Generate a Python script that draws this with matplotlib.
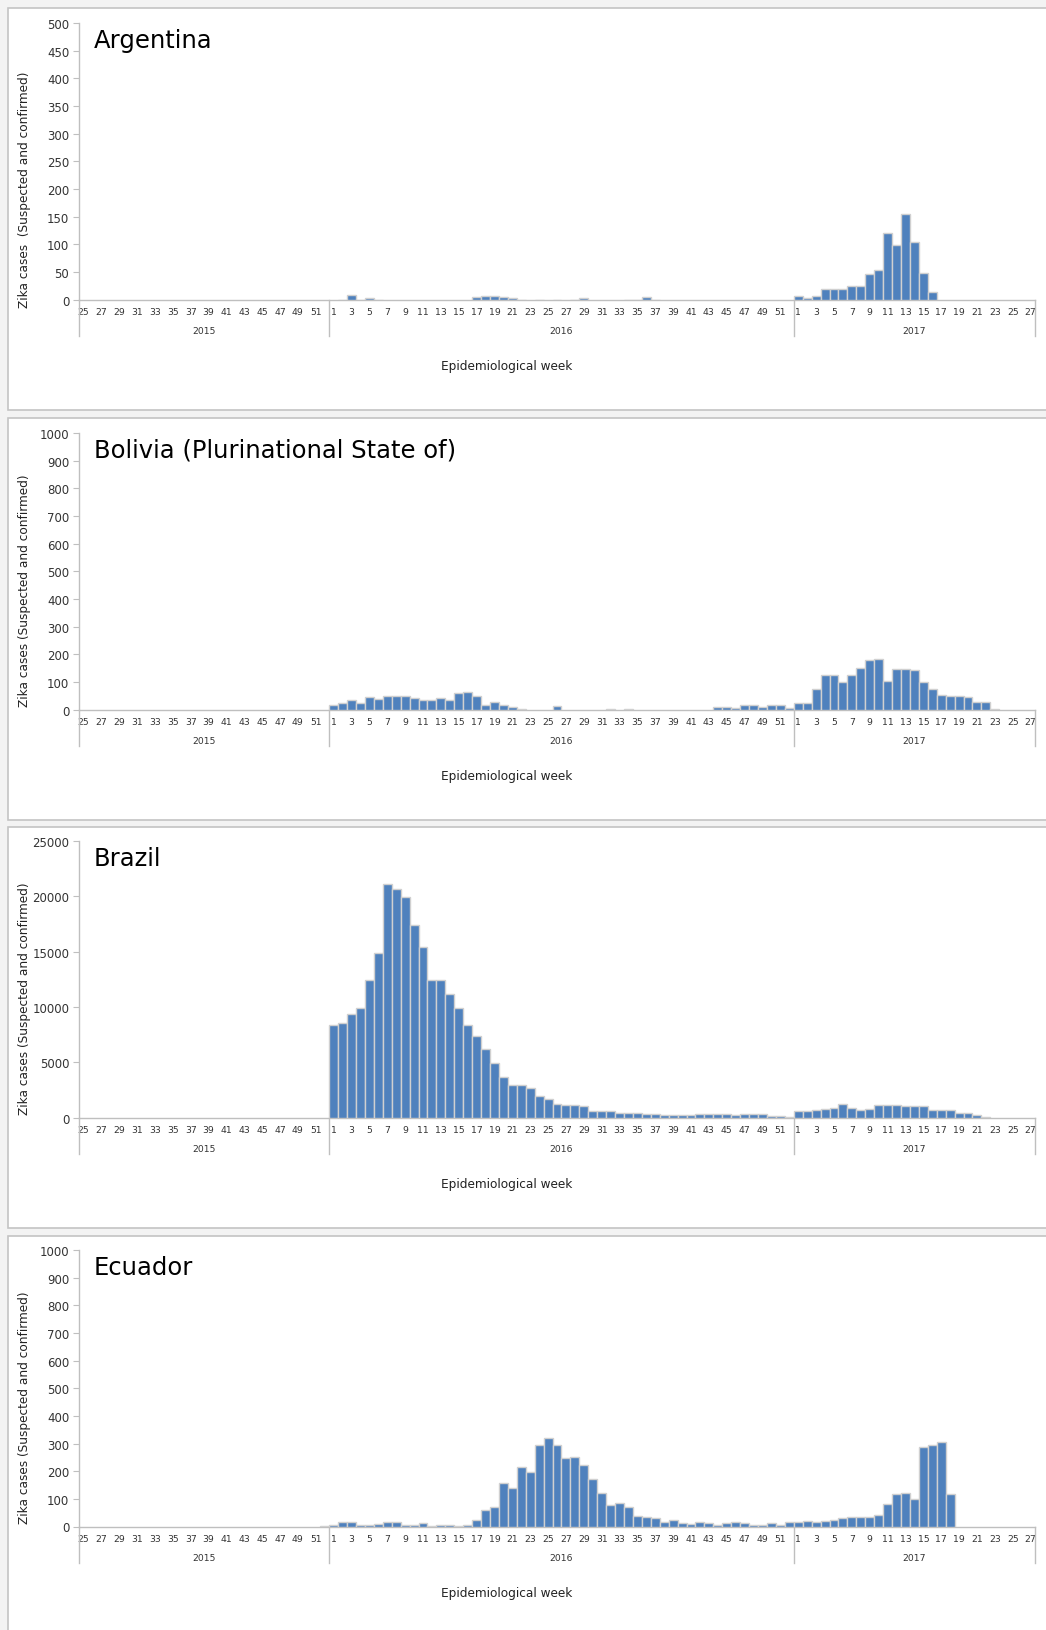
import numpy as np
import matplotlib.pyplot as plt
from matplotlib.patches import Rectangle

"""
    Zika cases (suspected and confirmed) per epidemiological week,
    one panel per country, 2015 week 25 to 2017 week 27
"""

weeks_2015 = list(range(25, 53))
weeks_2016 = list(range(1, 53))
weeks_2017 = list(range(1, 28))
years = ['2015', '2016', '2017']

# None = no report for that week, 0 = reported zero
argentina_2015 = [None] * 28
argentina_2016 = [None, 0, 9, 0, 3, 0, None, None, None, None,
                  None, None, None, None, None, None, 4, 7, 7, 4,
                  3, 0, None, 0, None, 0, None, 0, 3, None,
                  None, None, None, 0, 0, 4, 0, None, None, None,
                  None, None, None, None, None, None, None, None, None, None,
                  None, None]
argentina_2017 = [7, 3, 6, 19, 19, 19, 24, 24, 47, 53, 120, 98, 155, 104, 48, 13]

bolivia_2015 = [None] * 28
bolivia_2016 = [17, 24, 35, 23, 46, 39, 50, 50, 50, 40,
                35, 35, 40, 35, 59, 64, 50, 16, 27, 17,
                10, 1, None, None, None, 11, None, None, None, None,
                None, 1, None, 1, None, None, None, None, None, None,
                None, None, None, 10, 10, 6, 17, 17, 10, 17,
                17, 6]
bolivia_2017 = [24, 24, 75, 124, 124, 99, 124, 150, 178, 181,
                104, 146, 146, 144, 99, 75, 53, 50, 50, 46,
                28, 28, 1]

brazil_2015 = [None] * 28
brazil_2016 = [8400, 8500, 9400, 9900, 12400, 14850, 21150, 20700, 19900, 17400,
               15400, 12400, 12400, 11150, 9900, 8400, 7400, 6150, 4900, 3700,
               2900, 2900, 2650, 1950, 1650, 1200, 1100, 1100, 1000, 570,
               570, 570, 390, 390, 390, 300, 300, 210, 210, 210,
               210, 300, 300, 300, 300, 210, 300, 300, 300, 180,
               120, 50]
brazil_2017 = [570, 570, 660, 750, 900, 1200, 900, 660, 750, 1090,
               1090, 1090, 1000, 1000, 1000, 660, 660, 660, 390, 390,
               210, 30]

ecuador_2015 = [None] * 27 + [1]
ecuador_2016 = [7, 18, 18, 7, 5, 8, 18, 18, 7, 5,
                11, 2, 5, 7, 2, 5, 25, 58, 72, 157,
                140, 215, 197, 294, 320, 294, 247, 251, 222, 172,
                122, 76, 86, 69, 37, 34, 30, 18, 22, 11,
                8, 18, 11, 7, 11, 18, 11, 7, 7, 11,
                7, 18]
ecuador_2017 = [16, 19, 16, 19, 23, 30, 35, 35, 35, 43,
                83, 118, 122, 101, 288, 294, 306, 118]

countries = ['Argentina', 'Bolivia (Plurinational State of)', 'Brazil', 'Ecuador']
series = [(argentina_2015, argentina_2016, argentina_2017),
          (bolivia_2015, bolivia_2016, bolivia_2017),
          (brazil_2015, brazil_2016, brazil_2017),
          (ecuador_2015, ecuador_2016, ecuador_2017)]
y_max = [500, 1000, 25000, 1000]
y_step = [50, 100, 5000, 100]
y_labels = ['Zika cases  (Suspected and confirmed)',
            'Zika cases (Suspected and confirmed)',
            'Zika cases (Suspected and confirmed)',
            'Zika cases (Suspected and confirmed)']
# the Argentina label sits a bit lower than the others
y_label_shift = [28, 18, 18, 18]

#%%
W, H = 1046, 1631
bar_color = '#4F81BD'
edge_gray = '#D0D0D0'
axis_gray = '#BFBFBF'
text_gray = '#333333'


def fig_rect(x0, y0, x1, y1):
    """ pixel box (from top left) -> figure fraction """
    return [x0 / W, 1 - y1 / H, (x1 - x0) / W, (y1 - y0) / H]


week_labels = [str(w) for w in weeks_2015 + weeks_2016 + weeks_2017]
n_weeks = len(week_labels)
year_sizes = [len(weeks_2015), len(weeks_2016), len(weeks_2017)]
year_edges = np.cumsum([0] + year_sizes) - 0.5

panel_tops = [9, 419, 828, 1237]
panel_bottoms = [411, 821, 1229, 1645]
axes_tops = [24, 434, 842, 1251]
axes_h = 276.5
ax_left, ax_right = 79, 1035

fig = plt.figure(figsize=(W / 100, H / 100), dpi=100)
fig.patch.set_facecolor('#F3F3F3')

for i in range(4):
    # white box of the panel (behind the axes)
    fig.patches.append(Rectangle((8 / W, 1 - panel_bottoms[i] / H),
                                 1.2, (panel_bottoms[i] - panel_tops[i]) / H,
                                 transform=fig.transFigure, facecolor='white',
                                 edgecolor='#C4C4C4', linewidth=1.2, zorder=-5))

    top = axes_tops[i]
    bottom = top + axes_h
    ax = fig.add_axes(fig_rect(ax_left, top, ax_right, bottom))
    ax.set_zorder(2)
    ax.set_facecolor('none')

    s15, s16, s17 = series[i]
    s17 = s17 + [None] * (len(weeks_2017) - len(s17))
    values = s15 + s16 + s17
    x = [k for k in range(n_weeks) if values[k] is not None]
    h = [values[k] for k in x]
    ax.bar(x, h, width=1.0, color=bar_color, edgecolor=edge_gray,
           linewidth=1.0, zorder=3)

    ax.set_xlim(-0.5, n_weeks - 0.5)
    ax.set_ylim(0, y_max[i])
    ax.set_yticks(np.arange(0, y_max[i] + 1, y_step[i]))
    ax.set_xticks(range(0, n_weeks, 2))
    ax.set_xticklabels(week_labels[::2])

    for sp in ['top', 'right']:
        ax.spines[sp].set_visible(False)
    for sp in ['left', 'bottom']:
        ax.spines[sp].set_color(axis_gray)
        ax.spines[sp].set_linewidth(1.0)
    ax.tick_params(axis='y', direction='out', length=4, color=axis_gray,
                   labelsize=8.5, labelcolor=text_gray, pad=3)
    ax.tick_params(axis='x', length=0, labelsize=6.7, labelcolor=text_gray, pad=5.5)

    # year separators and year names under the week labels
    for e in year_edges:
        ax.plot([e, e], [0, -36 / axes_h], transform=ax.get_xaxis_transform(),
                color=axis_gray, linewidth=1.0, clip_on=False)
    for j in range(3):
        ax.annotate(years[j], xy=((year_edges[j] + year_edges[j + 1]) / 2, 0),
                    xycoords=('data', 'axes fraction'),
                    xytext=(0, -31), textcoords='offset pixels',
                    ha='center', va='center', fontsize=6.7, color=text_gray)

    fig.text(94 / W, 1 - (top + 17) / H, countries[i], fontsize=17.5,
             ha='left', va='center', color='black')
    fig.text(25 / W, 1 - (top + axes_h / 2 + y_label_shift[i]) / H, y_labels[i],
             rotation=90, fontsize=8.7, ha='center', va='center', color='#222222')
    fig.text(507 / W, 1 - (bottom + 66) / H, 'Epidemiological week',
             fontsize=8.7, ha='center', va='center', color='#222222')

fig.savefig('out.png', dpi=100, facecolor=fig.get_facecolor())
